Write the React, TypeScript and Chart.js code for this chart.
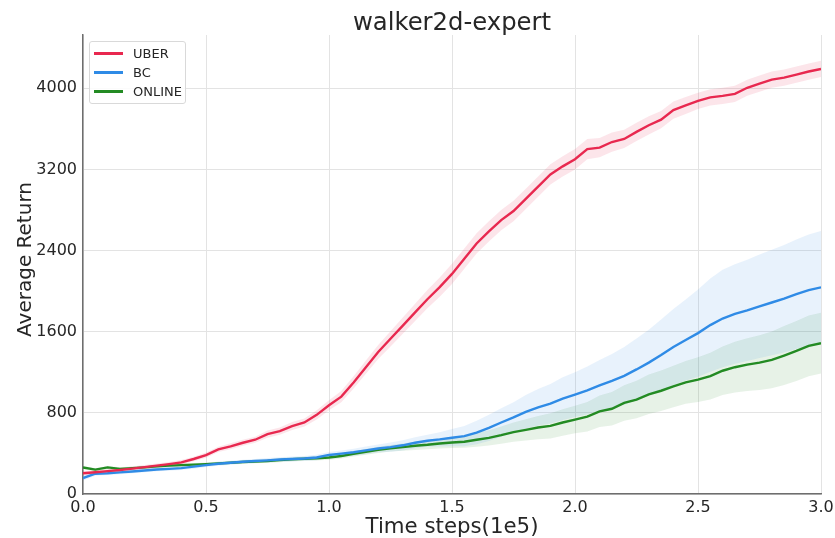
import React, { useEffect, useRef } from 'react';
import { Chart, registerables } from 'chart.js';

Chart.register(...registerables);

const steps = [
  0.0, 0.05, 0.1, 0.15, 0.2, 0.25, 0.3, 0.35, 0.4, 0.45,
  0.5, 0.55, 0.6, 0.65, 0.7, 0.75, 0.8, 0.85, 0.9, 0.95,
  1.0, 1.05, 1.1, 1.15, 1.2, 1.25, 1.3, 1.35, 1.4, 1.45,
  1.5, 1.55, 1.6, 1.65, 1.7, 1.75, 1.8, 1.85, 1.9, 1.95,
  2.0, 2.05, 2.1, 2.15, 2.2, 2.25, 2.3, 2.35, 2.4, 2.45,
  2.5, 2.55, 2.6, 2.65, 2.7, 2.75, 2.8, 2.85, 2.9, 2.95,
  3.0,
];

const uberMean = [
  205, 215, 225, 236, 250, 265, 280, 295, 312, 345,
  383, 440, 470, 505, 535, 590, 620, 670, 705, 780,
  875, 960, 1100, 1250, 1400, 1530, 1660, 1790, 1920, 2040,
  2170, 2320, 2470, 2590, 2700, 2790, 2910, 3030, 3150, 3230,
  3300, 3400, 3415, 3470, 3500, 3570, 3635, 3690, 3785, 3830,
  3875, 3910, 3925, 3945, 4005, 4045, 4085, 4105, 4135, 4165,
  4190,
];
const uberStd = [
  20, 20, 20, 20, 20, 20, 20, 20, 22, 22,
  25, 25, 30, 30, 30, 35, 35, 40, 40, 45,
  50, 55, 60, 65, 70, 75, 80, 85, 90, 95,
  100, 100, 100, 100, 100, 100, 100, 100, 100, 100,
  100, 100, 95, 95, 90, 90, 90, 85, 85, 85,
  80, 80, 80, 80, 80, 80, 80, 80, 80, 80,
  80,
];

const bcMean = [
  157, 200, 205, 213, 222, 232, 242, 248, 255, 270,
  285, 298, 308, 318, 325, 332, 340, 345, 350, 360,
  385, 398, 412, 430, 448, 462, 480, 505, 525, 538,
  555, 570, 606, 652, 705, 755, 810, 855, 890, 940,
  980, 1022, 1070, 1115, 1165, 1228, 1295, 1370, 1450, 1518,
  1586, 1665, 1730, 1775, 1810, 1850, 1888, 1925, 1970, 2010,
  2037,
];
const bcStd = [
  25, 20, 18, 18, 18, 18, 18, 18, 18, 20,
  20, 20, 20, 20, 20, 22, 22, 25, 25, 28,
  30, 32, 35, 38, 40, 45, 50, 55, 60, 70,
  85, 100, 115, 130, 140, 150, 165, 180, 195, 210,
  220, 235, 250, 265, 285, 305, 325, 350, 375, 400,
  430, 460, 480, 490, 500, 510, 520, 530, 540, 548,
  555,
];

const onlineMean = [
  262, 240, 262, 248, 255, 262, 272, 280, 285, 290,
  295, 302, 308, 315, 320, 325, 334, 342, 348, 352,
  360, 375, 395, 415, 435, 450, 462, 475, 485, 498,
  508, 515, 535, 553, 580, 610, 632, 655, 672, 705,
  734, 762, 815, 840, 898, 931, 983, 1018, 1060, 1100,
  1127, 1162, 1215, 1250, 1275, 1295, 1322, 1365, 1410, 1460,
  1487,
];
const onlineStd = [
  15, 15, 15, 15, 15, 15, 15, 15, 15, 15,
  15, 15, 15, 18, 18, 18, 20, 20, 20, 22,
  22, 25, 25, 28, 30, 32, 35, 40, 45, 50,
  55, 60, 68, 75, 85, 95, 105, 115, 125, 130,
  135, 145, 155, 165, 175, 185, 195, 200, 205, 210,
  220, 230, 240, 250, 260, 270, 280, 290, 295, 300,
  300,
];

const seriesNames = ['UBER', 'BC', 'ONLINE'];
const lineColors = ['#e8284f', '#2f8be6', '#238b23'];
const bandColors = ['rgba(232,40,79,0.12)', 'rgba(47,139,230,0.11)', 'rgba(35,139,35,0.11)'];
const xTicks = [0, 0.5, 1.0, 1.5, 2.0, 2.5, 3.0];
const yTicks = [0, 800, 1600, 2400, 3200, 4000];
const chartTitle = 'walker2d-expert';
const xTitle = 'Time steps(1e5)';
const yTitle = 'Average Return';

const FONT = "'DejaVu Sans', sans-serif";
const TEXT = '#262626';

const titlesPlugin = {
  id: 'titlesPlugin',
  afterDraw(chart: any) {
    const { ctx, chartArea } = chart;
    const cx = (chartArea.left + chartArea.right) / 2;
    const cy = (chartArea.top + chartArea.bottom) / 2;
    ctx.save();
    ctx.fillStyle = TEXT;
    ctx.textAlign = 'center';
    ctx.textBaseline = 'alphabetic';
    ctx.font = `24.3px ${FONT}`;
    ctx.fillText(chartTitle, cx, 30);
    ctx.font = `21.3px ${FONT}`;
    ctx.fillText(xTitle, cx, 533);
    ctx.translate(31, cy - 5);
    ctx.rotate(-Math.PI / 2);
    ctx.font = `20px ${FONT}`;
    ctx.fillText(yTitle, 0, 0);
    ctx.restore();
  },
};

export default function App() {
  const ref = useRef<HTMLCanvasElement | null>(null);

  useEffect(() => {
    if (!ref.current) return;
    const means = [uberMean, bcMean, onlineMean];
    const stds = [uberStd, bcStd, onlineStd];
    const datasets: any[] = [];
    means.forEach((m, i) => {
      datasets.push({
        label: seriesNames[i],
        data: steps.map((x, j) => ({ x, y: m[j] })),
        borderColor: lineColors[i],
        backgroundColor: lineColors[i],
        borderWidth: 2.4,
        pointRadius: 0,
        tension: 0,
        fill: false,
        order: 0,
      });
    });
    means.forEach((m, i) => {
      const lowerIndex = datasets.length;
      datasets.push({
        label: seriesNames[i] + ' lower',
        data: steps.map((x, j) => ({ x, y: m[j] - stds[i][j] })),
        borderWidth: 0,
        borderColor: 'rgba(0,0,0,0)',
        pointRadius: 0,
        fill: false,
        order: 1,
      });
      datasets.push({
        label: seriesNames[i] + ' upper',
        data: steps.map((x, j) => ({ x, y: m[j] + stds[i][j] })),
        borderWidth: 0,
        borderColor: 'rgba(0,0,0,0)',
        backgroundColor: bandColors[i],
        pointRadius: 0,
        fill: lowerIndex,
        order: 1,
      });
    });

    const chart = new Chart(ref.current, {
      type: 'line',
      data: { datasets },
      plugins: [titlesPlugin],
      options: {
        animation: false,
        responsive: false,
        layout: { padding: { left: 0, right: 14, top: 35, bottom: 0 } },
        plugins: {
          legend: { display: false },
          tooltip: { enabled: false },
          title: { display: false },
        },
        scales: {
          x: {
            type: 'linear',
            min: 0,
            max: 3.0,
            afterBuildTicks: (s: any) => { s.ticks = xTicks.map((v) => ({ value: v })); },
            afterFit: (s: any) => { s.height = 44; s.paddingLeft = 0; s.paddingRight = 0; },
            ticks: {
              color: TEXT,
              font: { family: FONT, size: 16 },
              padding: 4,
              maxRotation: 0,
              autoSkip: false,
              callback: (v: any) => Number(v).toFixed(1),
            },
            grid: { color: '#e3e3e3', lineWidth: 1, drawTicks: false },
            border: { display: true, color: '#6e6e6e', width: 1.5 },
          },
          y: {
            type: 'linear',
            min: 0,
            max: 4525,
            afterBuildTicks: (s: any) => { s.ticks = yTicks.map((v) => ({ value: v })); },
            afterFit: (s: any) => { s.width = 83; s.paddingTop = 0; s.paddingBottom = 0; },
            ticks: {
              color: TEXT,
              font: { family: FONT, size: 16 },
              padding: 6,
              autoSkip: false,
              callback: (v: any) => String(v),
            },
            grid: { color: '#e3e3e3', lineWidth: 1, drawTicks: false },
            border: { display: true, color: '#6e6e6e', width: 1.5 },
          },
        },
      },
    });
    return () => chart.destroy();
  }, []);

  const legendRow = (name: string, color: string, top: number) => (
    <div key={name} style={{ position: 'absolute', left: 0, top, height: 19, display: 'flex', alignItems: 'center' }}>
      <div style={{ width: 29, height: 2.4, background: color, marginLeft: 4 }} />
      <span style={{ marginLeft: 10, fontFamily: FONT, fontSize: 13, color: TEXT, lineHeight: '19px' }}>{name}</span>
    </div>
  );

  return (
    <div style={{ position: 'absolute', left: 0, top: 0, width: 835, height: 538, background: '#fff' }}>
      <canvas ref={ref} width={835} height={538} style={{ display: 'block', width: 835, height: 538 }} />
      <div
        style={{
          position: 'absolute',
          left: 89,
          top: 41,
          width: 97,
          height: 63,
          border: '1px solid #d9d9d9',
          borderRadius: 3,
          background: 'rgba(255,255,255,0.85)',
          boxSizing: 'border-box',
        }}
      >
        {legendRow('UBER', lineColors[0], 2)}
        {legendRow('BC', lineColors[1], 21)}
        {legendRow('ONLINE', lineColors[2], 40)}
      </div>
    </div>
  );
}
